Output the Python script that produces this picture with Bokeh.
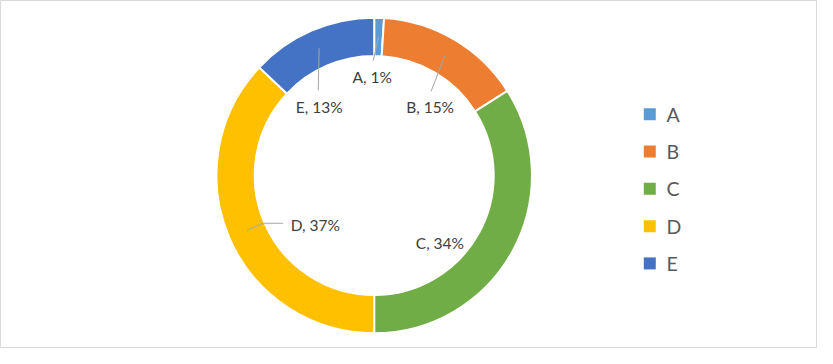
import math
from bokeh.plotting import figure
from bokeh.models import Range1d, ColumnDataSource
from bokeh.core.properties import value
from bokeh.embed import file_html
from bokeh.resources import INLINE

# ---- data ----
categories = ["A", "B", "C", "D", "E"]
shares = [1, 15, 34, 37, 13]
colors = ["#5B9BD5", "#ED7D31", "#70AD47", "#FFC000", "#4472C4"]

# ---- layout (reference pixel coordinates, rescaled to the figure) ----
W, H = 817, 348
REF_W, REF_H = 833, 364
SX, SY = W / REF_W, H / REF_H


def px(X):
    return X * SX


def py(Y):
    return H - Y * SY


cx, cy = px(381), py(183)
r_out, r_in = 165 * SY, 125 * SY

# label centres (reference px)
label_pos = {"A": (379, 80), "B": (438, 111), "C": (448, 254), "D": (321, 235), "E": (325, 111)}
# leader line: extra points after the ring anchor (reference px)
leader_pts = {"A": [(380, 63)], "B": [(439, 95)], "E": [(324, 94)], "D": [(267, 233), (288, 233)]}

total = sum(shares)
starts, ends, mids = [], [], []
cum = 0
for s in shares:
    a0 = math.pi / 2 - 2 * math.pi * cum / total
    cum += s
    a1 = math.pi / 2 - 2 * math.pi * cum / total
    starts.append(a0)
    ends.append(a1)
    mids.append((a0 + a1) / 2)

p = figure(width=W, height=H, x_range=Range1d(0, W), y_range=Range1d(0, H),
           output_backend="svg", toolbar_location=None,
           x_axis_type=None, y_axis_type=None, min_border=0,
           outline_line_color="#d9d9d9", background_fill_color="white",
           border_fill_color="white")
p.grid.visible = False

src = ColumnDataSource(dict(cat=categories, start=starts, end=ends, color=colors))
p.annular_wedge(x=cx, y=cy, inner_radius=r_in, outer_radius=r_out,
                start_angle="start", end_angle="end", direction="clock",
                fill_color="color", line_color="white", line_width=2, source=src)

# leader lines
xs, ys = [], []
r_mid = (r_in + r_out) / 2
for i, c in enumerate(categories):
    if c not in leader_pts:
        continue
    x0 = cx + r_mid * math.cos(mids[i])
    y0 = cy + r_mid * math.sin(mids[i])
    lx = [x0] + [px(X) for X, Y in leader_pts[c]]
    ly = [y0] + [py(Y) for X, Y in leader_pts[c]]
    xs.append(lx)
    ys.append(ly)
p.multi_line(xs=xs, ys=ys, line_color="#a6a6a6", line_width=1)

# data labels
lab_src = ColumnDataSource(dict(
    x=[px(label_pos[c][0]) for c in categories],
    y=[py(label_pos[c][1]) for c in categories],
    t=[f"{c}, {s}%" for c, s in zip(categories, shares)],
))
p.text(x="x", y="y", text="t", source=lab_src, text_align="center",
       text_baseline="middle", text_font=value("Lato"), text_font_size="15.5px",
       text_color="#404040")

# legend (manual)
leg_x, leg_y0, leg_dy = 662, 119, 39
leg_src = ColumnDataSource(dict(
    x=[px(leg_x)] * len(categories),
    y=[py(leg_y0 + i * leg_dy) for i in range(len(categories))],
    tx=[px(leg_x + 17)] * len(categories),
    cat=categories, color=colors,
))
p.scatter(x="x", y="y", marker="square", size=12, fill_color="color",
          line_color=None, source=leg_src)
p.text(x="tx", y="y", text="cat", source=leg_src, text_align="left",
       text_baseline="middle", text_font=value("Lato"), text_font_size="19.5px",
       text_color="#595959")

open("out.html", "w").write(file_html(p, INLINE))
